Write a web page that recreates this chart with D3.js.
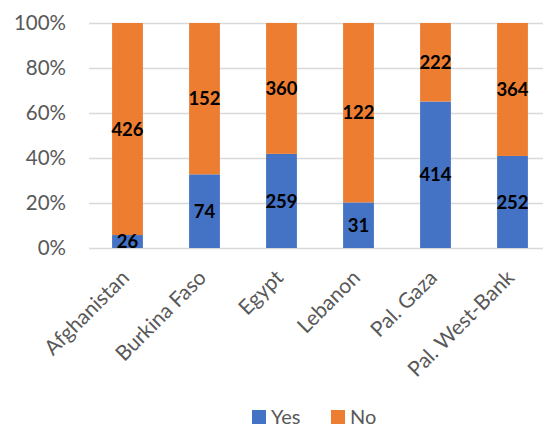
<!DOCTYPE html>
<html><head><meta charset="utf-8">
<script src="https://cdn.jsdelivr.net/npm/d3@7"></script>
<style>body{margin:0;background:#fff}svg{display:block}</style>
</head><body>
<svg id="chart" width="543" height="427"></svg>
<script>
const categories = ["Afghanistan","Burkina Faso","Egypt","Lebanon","Pal. Gaza","Pal. West-Bank"];
const yesValues = [26, 74, 259, 31, 414, 252];
const noValues = [426, 152, 360, 122, 222, 364];
const seriesNames = ["Yes","No"];
const seriesColors = ["#4472C4","#ED7D31"];
const yTicks = [0, 0.2, 0.4, 0.6, 0.8, 1.0];

const svg = d3.select("#chart");
const FONT = "Lato, 'Open Sans', sans-serif";
const mLeft = 89, mRight = 551, mTop = 23, mBottom = 248;

const x = d3.scaleBand().domain(categories).range([mLeft, mRight]).paddingInner(0.6).paddingOuter(0.3);
const y = d3.scaleLinear().domain([0,1]).range([mBottom, mTop]);

// gridlines
svg.append("g").selectAll("line").data(yTicks).join("line")
  .attr("x1", mLeft).attr("x2", mRight)
  .attr("y1", d => Math.round(y(d)) + 0.5).attr("y2", d => Math.round(y(d)) + 0.5)
  .attr("stroke", "#d9d9d9").attr("stroke-width", 1.3);

// y tick labels
svg.append("g").selectAll("text").data(yTicks).join("text")
  .attr("x", 66).attr("y", d => y(d)).attr("dy", "0.36em")
  .attr("text-anchor", "end").attr("font-family", FONT).attr("font-size", 20.5)
  .attr("fill", "#595959").text(d => d3.format(".0%")(d));

const rows = categories.map((c, i) => ({cat: c, Yes: yesValues[i], No: noValues[i]}));
const stack = d3.stack().keys(seriesNames).offset(d3.stackOffsetExpand);
const stacked = stack(rows);

const g = svg.append("g");
stacked.forEach((s, si) => {
  g.append("g").selectAll("rect").data(s).join("rect")
    .attr("x", d => x(d.data.cat)).attr("width", x.bandwidth())
    .attr("y", d => y(d[1])).attr("height", d => y(d[0]) - y(d[1]))
    .attr("fill", seriesColors[si]);
});
stacked.forEach((s, si) => {
  g.append("g").selectAll("text").data(s).join("text")
    .attr("x", d => x(d.data.cat) + x.bandwidth()/2)
    .attr("y", d => y((d[0] + d[1]) / 2)).attr("dy", "0.36em")
    .attr("text-anchor", "middle").attr("font-family", FONT).attr("font-weight", "bold")
    .attr("font-size", 18.5).attr("fill", "#000")
    .text(d => d.data[s.key]);
});

// x axis labels
svg.append("g").selectAll("text").data(categories).join("text")
  .attr("transform", d => `translate(${x(d) + x.bandwidth()/2 + 3},${279}) rotate(-45)`)
  .attr("text-anchor", "end").attr("font-family", FONT).attr("font-size", 21)
  .attr("fill", "#595959").text(d => d);

// legend
const legendX = [252, 331];
const lg = svg.append("g");
seriesNames.forEach((n, i) => {
  lg.append("rect").attr("x", legendX[i]).attr("y", 410).attr("width", 14).attr("height", 14).attr("fill", seriesColors[i]);
  lg.append("text").attr("x", legendX[i] + 19).attr("y", 417).attr("dy", "0.36em")
    .attr("font-family", FONT).attr("font-size", 20).attr("fill", "#595959").text(n);
});
</script>
</body></html>
